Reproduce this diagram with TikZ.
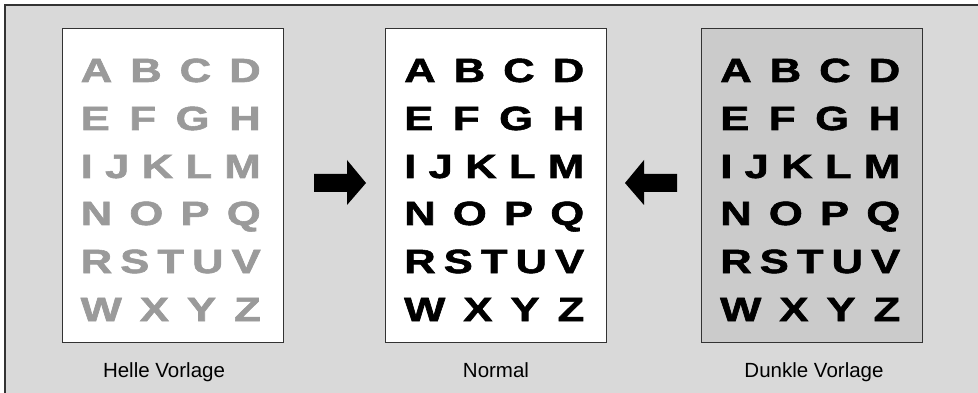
\documentclass[tikz,border=0pt]{standalone}
\usepackage{fontspec}
\setmainfont{Liberation Sans}
\newfontfamily\heavyfont[FakeBold=1.6]{Liberation Sans Bold}
\usepackage{graphicx}
\definecolor{bg}{HTML}{D9D9D9}
\definecolor{darkpage}{HTML}{CBCBCB}
\definecolor{lightletter}{HTML}{9A9A9A}
\definecolor{frame}{HTML}{333333}
\newcommand\ltr[1]{\scalebox{1.3}[1]{#1}}
\newcommand\lrow[4]{\hbox to 180pt{\ltr{#1}\hfil\ltr{#2}\hfil\ltr{#3}\hfil\ltr{#4}}}
\newcommand\lrowf[5]{\hbox to 180pt{\ltr{#1}\hfil\ltr{#2}\hfil\ltr{#3}\hfil\ltr{#4}\hfil\ltr{#5}}}
\tikzset{
  page/.style={draw=frame, line width=1pt, minimum width=221pt, minimum height=313pt, inner sep=0pt},
  letters/.style={font=\heavyfont\fontsize{33.5}{40}\selectfont, inner sep=0pt, anchor=base west},
  caption/.style={font=\fontsize{20.5}{24}\selectfont, anchor=base},
  bigarrow/.style={fill=black}
}
\newcommand\chartrows[2]{%
  \node[letters, text=#2] (#1r1) at ([xshift=19pt]#1.west |- 0,82)  {\lrow{A}{B}{C}{D}};
  \node[letters, text=#2] (#1r2) at ([xshift=19pt]#1.west |- 0,130) {\lrow{E}{F}{G}{H}};
  \node[letters, text=#2] (#1r3) at ([xshift=19pt]#1.west |- 0,178) {\lrowf{I}{J}{K}{L}{M}};
  \node[letters, text=#2] (#1r4) at ([xshift=19pt]#1.west |- 0,225) {\lrow{N}{O}{P}{Q}};
  \node[letters, text=#2] (#1r5) at ([xshift=19pt]#1.west |- 0,273) {\lrowf{R}{S}{T}{U}{V}};
  \node[letters, text=#2] (#1r6) at ([xshift=19pt]#1.west |- 0,321) {\lrow{W}{X}{Y}{Z}};
}
\begin{document}
\begin{tikzpicture}[x=1pt,y=-1pt]
\useasboundingbox (0,0) rectangle (978,393);
\fill[white] (0,0) rectangle (978,393);
\fill[bg] (5,5) rectangle (978,393);
\draw[frame, line width=1.5pt] (5,393) -- (5,5) -- (978,5);
% pages
\node[page, fill=white] (p1) at (172.5,185.5) {};
\node[page, fill=white] (p2) at (496,185.5) {};
\node[page, fill=darkpage] (p3) at (812,185.5) {};
% letters
\chartrows{p1}{lightletter}
\chartrows{p2}{black}
\chartrows{p3}{black}
% captions
\node[caption] (c1) at (164,377) {Helle Vorlage};
\node[caption] (c2) at (496,377) {Normal};
\node[caption] (c3) at (814,377) {Dunkle Vorlage};
% arrows
\coordinate (a1) at (314,183);
\coordinate (a2) at (677,183);
\fill[bigarrow] (a1) ++(0,-9) -- ++(33,0) -- ++(0,-14) -- ++(19,23) -- ++(-19,22) -- ++(0,-13) -- ++(-33,0) -- cycle;
\fill[bigarrow] (a2) ++(0,-9) -- ++(-33,0) -- ++(0,-14) -- ++(-19,23) -- ++(19,22) -- ++(0,-13) -- ++(33,0) -- cycle;
\end{tikzpicture}
\end{document}
